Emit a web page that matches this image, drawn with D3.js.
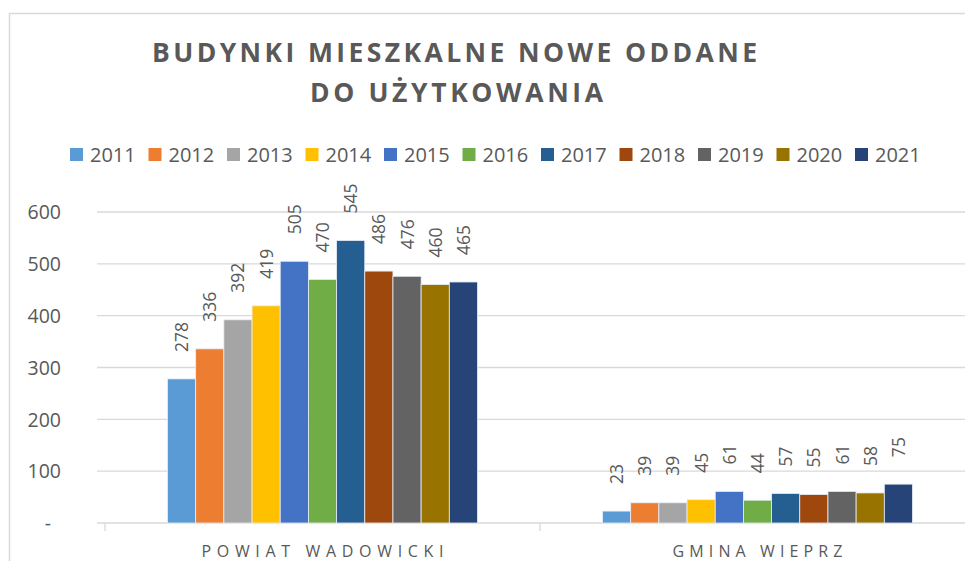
<!DOCTYPE html>
<html><head><meta charset="utf-8">
<script src="https://cdn.jsdelivr.net/npm/d3@7"></script>
<style>body{margin:0;background:#fff;overflow:hidden}</style>
</head><body>
<svg id="c" width="965" height="561"></svg>
<script>
const categories = ["POWIAT  WADOWICKI", "GMINA WIEPRZ"];
const years = ["2011","2012","2013","2014","2015","2016","2017","2018","2019","2020","2021"];
const powiatValues = [278,336,392,419,505,470,545,486,476,460,465];
const gminaValues = [23,39,39,45,61,44,57,55,61,58,75];
const yTicks = [0,100,200,300,400,500,600];
const colors = ["#5B9BD5","#ED7D31","#A5A5A5","#FFC000","#4472C4","#70AD47","#255E91","#9E480E","#636363","#997300","#264478"];
const seriesByCat = [powiatValues, gminaValues];
const catLabelWidths = [242, 170];

const svg = d3.select("#c");
const font = "'Open Sans', sans-serif";
const txt = "#595959";

// frame
svg.append("path").attr("d","M9.5,561 V13.5 H965").attr("fill","none").attr("stroke","#d9d9d9").attr("stroke-width",1.5);

// title
const title = svg.append("g").attr("font-family",font).attr("font-weight","bold")
  .attr("fill",txt).attr("font-size",26.5).attr("text-anchor","start");
title.append("text").attr("x",152).attr("y",62).attr("textLength",605).attr("lengthAdjust","spacing").text("BUDYNKI MIESZKALNE NOWE ODDANE");
title.append("text").attr("x",310).attr("y",102).attr("textLength",293).attr("lengthAdjust","spacing").text("DO UŻYTKOWANIA");

// scales
const x0 = d3.scaleBand().domain(categories).range([105,975]).padding(0);
const x1 = d3.scaleBand().domain(years).range([62.5,372.5]).padding(0);
const y = d3.scaleLinear().domain([0,600]).range([523,212]);

// grid
svg.append("g").selectAll("line").data(yTicks).join("line")
  .attr("x1",97).attr("x2",975).attr("y1",d=>y(d)).attr("y2",d=>y(d))
  .attr("stroke","#d9d9d9").attr("stroke-width",1.3);

// category ticks
const catEdges = [105,540,975];
svg.append("g").selectAll("line").data(catEdges).join("line")
  .attr("x1",d=>d).attr("x2",d=>d).attr("y1",523).attr("y2",531)
  .attr("stroke","#d9d9d9").attr("stroke-width",1.3);

// y axis labels
const yAxis = d3.axisLeft(y).tickValues(yTicks).tickSize(0).tickFormat(d=>d===0?"-":d);
const ya = svg.append("g").attr("transform","translate(61,0)").call(yAxis);
ya.select(".domain").remove();
ya.selectAll("text").attr("font-family",font).attr("font-size",19.5).attr("fill",txt).attr("x",0)
  .attr("dy","0.35em");
ya.selectAll(".tick text").filter(d=>d===0).attr("x",-10);

// bars
categories.forEach((cat,ci)=>{
  const g = svg.append("g").attr("transform",`translate(${x0(cat)},0)`);
  const data = seriesByCat[ci].map((v,i)=>({year:years[i],v,c:colors[i]}));
  g.selectAll("rect").data(data).join("rect")
    .attr("x",d=>x1(d.year)).attr("width",x1.bandwidth())
    .attr("y",d=>y(d.v)).attr("height",d=>y(0)-y(d.v))
    .attr("fill",d=>d.c).attr("stroke","#e8eef7").attr("stroke-width",0.8);
  g.selectAll("text").data(data).join("text")
    .attr("transform",d=>`translate(${x1(d.year)+x1.bandwidth()/2+6.5},${y(d.v)-27}) rotate(-90)`)
    .attr("font-family",font).attr("font-size",17.5).attr("fill",txt).attr("text-anchor","start")
    .text(d=>d.v);
  g.append("text").attr("x",x0.bandwidth()/2).attr("y",557).attr("text-anchor","middle")
    .attr("font-family",font).attr("font-size",16).attr("fill",txt)
    .attr("textLength",catLabelWidths[ci]).attr("lengthAdjust","spacing")
    .text(cat);
});

// legend
const leg = svg.append("g");
years.forEach((yr,i)=>{
  const gx = 70 + i*78.5;
  leg.append("rect").attr("x",gx).attr("y",148).attr("width",13).attr("height",13).attr("fill",colors[i]);
  leg.append("text").attr("x",gx+20).attr("y",161.5).attr("font-family",font).attr("font-size",20)
    .attr("fill",txt).text(yr);
});
</script>
</body></html>
